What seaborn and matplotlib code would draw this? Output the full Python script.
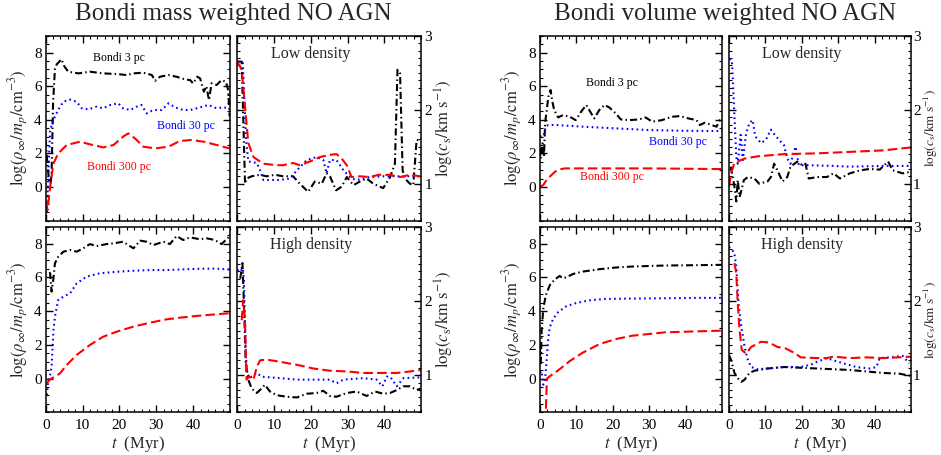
import matplotlib
matplotlib.use('Agg')
import matplotlib.pyplot as plt
import seaborn as sns
from matplotlib.ticker import MultipleLocator

# ---------------- data ----------------
# Mass weighted, low density: log(rho_inf)
mass_low_rho_3pc_t = [0, 0.5, 1.0, 1.3, 1.6, 2.0, 2.5, 3.0, 4.3, 5.0, 6.1, 8.9, 12.0, 15.6, 19.3, 22.0, 23.8, 26.5, 28.8, 29.7, 31.0, 33.3, 35.5, 37.8, 39.2, 40.0, 41.1, 41.9, 42.9, 43.6, 44.3, 45.0, 46.4, 47.7, 48.9, 49.5, 49.9]
mass_low_rho_3pc = [2.8, 1.2, 0.3, 0.2, 0.8, 5.0, 7.0, 7.3, 7.6, 7.2, 6.86, 6.76, 6.86, 6.76, 6.72, 6.66, 6.76, 6.8, 6.66, 6.32, 6.56, 6.66, 6.56, 6.4, 6.36, 6.16, 6.56, 6.46, 5.67, 6.0, 5.17, 6.17, 6.07, 6.36, 6.26, 5.77, 4.2]
mass_low_rho_30pc_t = [0.3, 1.2, 2.1, 3.4, 4.8, 6.6, 8.4, 9.8, 11.6, 13.8, 15.6, 17.5, 19.7, 21.0, 22.9, 24.7, 26.0, 27.4, 29.2, 31.5, 33.3, 35.1, 37.3, 39.2, 41.9, 44.1, 46.4, 48.2, 49.8]
mass_low_rho_30pc = [-1.5, 3.4, 4.0, 4.6, 5.07, 5.2, 5.07, 4.68, 4.62, 4.78, 4.68, 4.88, 4.98, 4.68, 4.58, 4.78, 4.88, 4.38, 4.58, 4.58, 4.98, 4.74, 4.58, 4.58, 4.74, 4.88, 4.68, 4.74, 4.68]
mass_low_rho_300pc_t = [0, 0.5, 1.2, 2.1, 3.4, 5.7, 9.3, 12.0, 15.6, 18.4, 21.0, 22.4, 24.2, 26.5, 29.7, 33.3, 36.4, 39.6, 42.8, 46.4, 49.8]
mass_low_rho_300pc = [-0.87, -1.37, 0.02, 1.4, 2.0, 2.5, 2.7, 2.54, 2.36, 2.5, 3.0, 3.19, 2.9, 2.4, 2.3, 2.4, 2.74, 2.8, 2.7, 2.5, 2.3]

# Mass weighted, low density: log(c_s)
mass_low_cs_3pc_t = [0, 1.2, 2.1, 2.5, 3.9, 6.2, 8.0, 10.3, 12.5, 15.2, 17.0, 19.3, 21.1, 23.0, 24.3, 25.2, 26.9, 28.4, 29.8, 31.6, 33.4, 35.2, 37.0, 39.7, 41.6, 42.9, 43.6, 44.3, 45.0, 45.6, 47.0, 47.9, 48.8, 49.7]
mass_low_cs_3pc = [2.65, 2.65, 1.0, 1.07, 1.1, 1.12, 1.1, 1.12, 1.1, 1.1, 1.0, 0.89, 1.03, 1.0, 1.14, 1.1, 0.91, 0.96, 1.09, 0.98, 1.03, 1.07, 1.0, 0.94, 1.09, 1.27, 2.54, 2.49, 1.18, 1.07, 1.0, 0.98, 1.59, 1.59]
mass_low_cs_30pc_t = [0, 1.5, 2.4, 3.0, 5.3, 6.2, 7.1, 11.6, 14.3, 16.2, 18.9, 21.6, 23.4, 24.3, 25.2, 27.0, 28.9, 31.1, 32.5, 36.1, 39.7, 45.2, 49.7]
mass_low_cs_30pc = [2.65, 2.63, 1.59, 1.3, 1.28, 1.18, 1.05, 1.05, 1.07, 1.18, 1.32, 1.36, 1.32, 1.14, 1.32, 1.32, 1.18, 1.07, 1.05, 1.09, 1.1, 1.1, 1.1]
mass_low_cs_300pc_t = [0, 1.2, 2.1, 3.0, 4.4, 7.1, 10.7, 12.5, 15.2, 17.0, 19.8, 22.5, 25.2, 27.0, 28.4, 29.8, 31.1, 33.4, 36.1, 38.4, 41.6, 44.3, 47.0, 49.7]
mass_low_cs_300pc = [2.65, 2.54, 2.04, 1.55, 1.36, 1.27, 1.25, 1.25, 1.28, 1.25, 1.3, 1.36, 1.39, 1.4, 1.34, 1.25, 1.09, 1.1, 1.09, 1.12, 1.12, 1.09, 1.12, 1.1]

# Mass weighted, high density: log(rho_inf)
mass_high_rho_3pc_t = [1.0, 1.2, 1.6, 2.1, 2.5, 3.4, 4.8, 6.6, 8.4, 10.2, 12.0, 13.8, 16.5, 18.4, 21.0, 22.4, 23.8, 25.6, 27.4, 29.2, 31.9, 33.7, 35.5, 37.3, 39.2, 41.9, 43.7, 45.9, 47.7, 49.8]
mass_high_rho_3pc = [6.3, 6.24, 5.15, 5.94, 6.83, 7.22, 7.52, 7.62, 7.52, 7.72, 7.97, 7.85, 7.97, 8.01, 8.11, 7.91, 7.72, 8.17, 8.11, 7.91, 8.11, 7.97, 8.45, 8.21, 8.37, 8.25, 8.31, 8.21, 7.97, 8.41]
mass_high_rho_30pc_t = [0.3, 0.7, 1.2, 1.6, 2.1, 2.5, 3.4, 4.8, 6.6, 8.4, 11.1, 14.7, 19.3, 23.8, 28.3, 32.8, 37.3, 41.9, 46.4, 49.8]
mass_high_rho_30pc = [-0.97, -0.08, 0.21, 0.7, 2.88, 3.67, 4.66, 4.85, 5.05, 5.64, 6.04, 6.24, 6.33, 6.39, 6.43, 6.43, 6.47, 6.51, 6.51, 6.47]
mass_high_rho_300pc_t = [0.3, 1.2, 2.5, 3.9, 5.7, 8.4, 12.0, 15.6, 19.3, 23.8, 28.3, 32.8, 37.3, 41.9, 46.4, 49.8]
mass_high_rho_300pc = [-0.28, -0.04, 0.11, 0.31, 0.8, 1.4, 1.99, 2.48, 2.78, 3.08, 3.31, 3.51, 3.63, 3.73, 3.81, 3.87]

# Mass weighted, high density: log(c_s)
mass_high_cs_3pc_t = [0.8, 1.4, 1.8, 2.3, 3.0, 3.9, 5.3, 6.6, 7.5, 8.9, 10.7, 13.4, 16.2, 18.9, 21.6, 23.4, 25.2, 27.0, 29.8, 32.5, 35.2, 37.5, 39.7, 41.6, 43.4, 45.2, 47.0, 48.8, 49.9]
mass_high_cs_3pc = [2.3, 2.51, 1.97, 1.16, 0.94, 0.82, 0.76, 0.82, 0.87, 0.78, 0.73, 0.71, 0.7, 0.75, 0.76, 0.79, 0.72, 0.71, 0.76, 0.78, 0.72, 0.78, 0.75, 0.76, 0.8, 0.85, 0.85, 0.8, 0.82]
mass_high_cs_30pc_t = [0, 0.7, 1.5, 1.8, 2.3, 2.7, 3.3, 4.4, 5.3, 6.6, 11.6, 16.2, 20.7, 25.2, 27.0, 28.9, 34.3, 37.9, 39.5, 40.7, 41.6, 43.4, 45.2, 49.9]
mass_high_cs_30pc = [2.42, 2.39, 2.44, 2.28, 1.29, 1.03, 0.96, 1.0, 1.03, 0.98, 0.96, 0.94, 0.94, 0.94, 0.89, 0.94, 0.96, 0.94, 0.85, 0.98, 0.98, 0.85, 0.96, 0.97]
mass_high_cs_300pc_t = [1.2, 1.6, 2.1, 2.5, 3.3, 4.4, 5.3, 6.2, 8.0, 11.6, 16.2, 20.7, 25.2, 29.8, 34.3, 38.8, 43.4, 47.0, 49.9]
mass_high_cs_300pc = [1.74, 2.01, 1.74, 0.94, 0.98, 0.94, 1.11, 1.2, 1.21, 1.18, 1.14, 1.09, 1.06, 1.05, 1.03, 1.03, 1.03, 1.05, 1.07]

# Volume weighted, low density: log(rho_inf)
vol_low_rho_3pc_t = [0, 0.2, 0.7, 1.1, 1.4, 2.3, 2.9, 3.4, 3.9, 5.0, 6.3, 8.2, 9.8, 11.3, 12.7, 13.8, 14.9, 16.3, 17.7, 19.0, 20.8, 22.2, 24.5, 27.2, 29.0, 30.8, 33.5, 36.2, 38.5, 40.8, 43.0, 43.9, 45.3, 47.1, 48.5, 49.4, 50.0]
vol_low_rho_3pc = [2.3, 1.7, 2.6, 1.8, 3.8, 5.37, 5.77, 5.08, 4.58, 4.14, 4.28, 4.18, 3.98, 4.48, 4.88, 4.48, 4.08, 4.58, 4.88, 4.74, 4.38, 4.02, 3.98, 4.02, 4.14, 3.89, 3.98, 4.18, 4.22, 4.08, 3.98, 3.69, 3.83, 3.69, 3.59, 3.98, 3.89]
vol_low_rho_30pc_t = [0, 0.9, 1.6, 2.3, 4.5, 11.8, 20.8, 29.9, 38.9, 50.0]
vol_low_rho_30pc = [3.0, 3.0, 3.6, 3.69, 3.69, 3.59, 3.49, 3.39, 3.35, 3.33]
vol_low_rho_300pc_t = [0, 0.9, 1.8, 2.7, 4.1, 5.4, 6.8, 16.3, 29.9, 50.0]
vol_low_rho_300pc = [0.02, 0.12, 0.42, 0.62, 0.91, 1.05, 1.11, 1.11, 1.11, 1.07]

# Volume weighted, low density: log(c_s)
vol_low_cs_3pc_t = [0.5, 1.5, 2.0, 2.4, 2.9, 3.4, 4.1, 5.2, 7.0, 8.3, 10.6, 11.5, 12.4, 13.3, 14.7, 16.0, 16.9, 18.8, 20.1, 21.0, 21.9, 24.2, 26.9, 28.7, 30.5, 33.2, 36.0, 38.7, 41.4, 43.7, 45.0, 47.7, 50.0]
vol_low_cs_3pc = [1.23, 0.96, 0.76, 1.05, 0.82, 0.91, 1.05, 1.09, 1.07, 1.0, 1.03, 1.09, 1.27, 1.18, 1.03, 1.09, 1.23, 1.3, 1.25, 1.27, 1.07, 1.09, 1.09, 1.14, 1.07, 1.14, 1.18, 1.2, 1.19, 1.3, 1.18, 1.14, 1.16]
vol_low_cs_30pc_t = [0.2, 0.8, 2.0, 2.4, 3.2, 3.8, 4.7, 5.6, 6.5, 7.2, 8.8, 10.1, 11.5, 12.9, 15.1, 16.0, 16.9, 18.3, 19.2, 21.5, 28.7, 33.2, 42.3, 50.0]
vol_low_cs_30pc = [2.69, 2.67, 1.36, 1.27, 1.66, 1.32, 1.68, 1.82, 1.86, 1.64, 1.55, 1.59, 1.73, 1.64, 1.52, 1.34, 1.27, 1.5, 1.25, 1.25, 1.24, 1.23, 1.24, 1.24]
vol_low_cs_300pc_t = [0, 0.6, 1.4, 2.4, 4.3, 7.9, 15.1, 24.2, 33.2, 42.3, 50.0]
vol_low_cs_300pc = [0.96, 1.14, 1.27, 1.3, 1.34, 1.37, 1.4, 1.41, 1.43, 1.45, 1.49]

# Volume weighted, high density: log(rho_inf)
vol_high_rho_3pc_t = [0, 0.2, 0.45, 0.9, 1.6, 2.7, 4.1, 5.4, 6.3, 7.2, 9.1, 11.8, 16.3, 20.8, 25.4, 34.4, 43.5, 50.0]
vol_high_rho_3pc = [1.8, 0.9, 2.84, 4.14, 4.94, 5.54, 5.88, 6.08, 5.94, 6.0, 6.2, 6.34, 6.48, 6.58, 6.64, 6.7, 6.72, 6.74]
vol_high_rho_30pc_t = [0, 0.45, 0.9, 1.4, 1.8, 2.3, 2.7, 3.6, 5.0, 7.2, 10.0, 13.6, 18.1, 25.4, 34.4, 43.5, 50.0]
vol_high_rho_30pc = [0.34, 0.44, -0.36, -0.06, 1.04, 2.44, 3.04, 3.54, 3.94, 4.28, 4.48, 4.64, 4.72, 4.74, 4.76, 4.78, 4.78]
vol_high_rho_300pc_t = [1.5, 1.9, 2.7, 4.1, 5.9, 8.2, 11.8, 16.3, 20.8, 25.4, 29.9, 34.4, 43.5, 50.0]
vol_high_rho_300pc = [-2.6, 0.0, 0.14, 0.34, 0.64, 1.04, 1.54, 2.04, 2.34, 2.54, 2.64, 2.74, 2.8, 2.84]

# Volume weighted, high density: log(c_s)
vol_high_cs_3pc_t = [0, 0.6, 1.5, 2.4, 3.4, 4.3, 5.6, 7.0, 10.6, 15.1, 19.7, 24.2, 28.7, 33.2, 37.8, 42.3, 46.8, 50.0]
vol_high_cs_3pc = [1.27, 1.2, 1.03, 0.96, 0.91, 0.94, 1.03, 1.06, 1.09, 1.11, 1.1, 1.09, 1.08, 1.07, 1.05, 1.03, 1.02, 0.99]
vol_high_cs_30pc_t = [0, 0.6, 1.4, 2.0, 2.6, 3.4, 4.3, 5.2, 6.1, 7.9, 10.6, 15.1, 19.7, 22.4, 24.2, 26.9, 28.7, 31.4, 35.0, 38.7, 40.5, 41.4, 44.1, 47.7, 49.5]
vol_high_cs_30pc = [2.73, 2.69, 2.66, 2.46, 1.97, 1.65, 1.38, 1.2, 1.11, 1.08, 1.09, 1.11, 1.11, 1.14, 1.18, 1.23, 1.2, 1.16, 1.11, 1.09, 1.11, 1.23, 1.24, 1.26, 1.16]
vol_high_cs_300pc_t = [1.5, 2.0, 2.4, 2.9, 3.5, 4.7, 6.1, 8.8, 11.0, 13.3, 15.6, 18.3, 19.7, 24.2, 26.9, 28.7, 33.2, 37.8, 42.3, 46.8, 50.0]
vol_high_cs_300pc = [2.51, 2.37, 1.97, 1.61, 1.34, 1.29, 1.38, 1.45, 1.44, 1.38, 1.36, 1.29, 1.24, 1.23, 1.23, 1.25, 1.23, 1.24, 1.23, 1.24, 1.25]

group_titles = ["Bondi mass weighted NO AGN", "Bondi volume weighted NO AGN"]
panel_labels = ["Low density", "High density"]
series_labels = ["Bondi 3 pc", "Bondi 30 pc", "Bondi 300 pc"]
xtick_values = [0, 10, 20, 30, 40]
rho_ticks = [0, 2, 4, 6, 8]
cs_ticks = [1, 2, 3]

# ---------------- styling ----------------
sns.set_style('ticks')
plt.rcParams['font.family'] = ['Liberation Serif', 'DejaVu Serif']
plt.rcParams['mathtext.fontset'] = 'stix'

W, H = 941, 455
fig = plt.figure(figsize=(W / 100, H / 100), dpi=100)
fig.patch.set_facecolor('white')

LW = 1.5
styles = {
    '3pc': dict(color='#000000', linestyle=(0, (3.4, 1.5, 0.7, 1.5))),
    '30pc': dict(color='#0000ff', linestyle=(0, (0.8, 1.6))),
    '300pc': dict(color='#ff0000', linestyle=(0, (4.6, 2.0))),
}

def px_axes(x0, y0, x1, y1):
    return fig.add_axes([x0 / W, 1 - y1 / H, (x1 - x0) / W, (y1 - y0) / H])

col_x = [[(45.7, 230.0), (237.3, 421.0)], [(540.0, 722.0), (729.0, 911.0)]]
row_y = [(35.7, 220.7), (226.7, 412.3)]
cs_label_center_px = [443.0, 934.0]
cs_tick_pad = [2.5, 1.5]

data = {
    ('mass', 'low', 'rho'): [(mass_low_rho_3pc_t, mass_low_rho_3pc), (mass_low_rho_30pc_t, mass_low_rho_30pc), (mass_low_rho_300pc_t, mass_low_rho_300pc)],
    ('mass', 'low', 'cs'): [(mass_low_cs_3pc_t, mass_low_cs_3pc), (mass_low_cs_30pc_t, mass_low_cs_30pc), (mass_low_cs_300pc_t, mass_low_cs_300pc)],
    ('mass', 'high', 'rho'): [(mass_high_rho_3pc_t, mass_high_rho_3pc), (mass_high_rho_30pc_t, mass_high_rho_30pc), (mass_high_rho_300pc_t, mass_high_rho_300pc)],
    ('mass', 'high', 'cs'): [(mass_high_cs_3pc_t, mass_high_cs_3pc), (mass_high_cs_30pc_t, mass_high_cs_30pc), (mass_high_cs_300pc_t, mass_high_cs_300pc)],
    ('vol', 'low', 'rho'): [(vol_low_rho_3pc_t, vol_low_rho_3pc), (vol_low_rho_30pc_t, vol_low_rho_30pc), (vol_low_rho_300pc_t, vol_low_rho_300pc)],
    ('vol', 'low', 'cs'): [(vol_low_cs_3pc_t, vol_low_cs_3pc), (vol_low_cs_30pc_t, vol_low_cs_30pc), (vol_low_cs_300pc_t, vol_low_cs_300pc)],
    ('vol', 'high', 'rho'): [(vol_high_rho_3pc_t, vol_high_rho_3pc), (vol_high_rho_30pc_t, vol_high_rho_30pc), (vol_high_rho_300pc_t, vol_high_rho_300pc)],
    ('vol', 'high', 'cs'): [(vol_high_cs_3pc_t, vol_high_cs_3pc), (vol_high_cs_30pc_t, vol_high_cs_30pc), (vol_high_cs_300pc_t, vol_high_cs_300pc)],
}
series_keys = ['3pc', '30pc', '300pc']

series_text_pos = {
    'mass': [(20, 7.67), (38, 3.64), (20, 1.2)],
    'vol': [(19.7, 6.17), (38, 2.65), (19.8, 0.6)],
}

RHO_LABEL = r'$\log(\rho_\infty/m_{p}/\mathrm{cm}^{-3})$'
CS_LABEL = r'$\log(c_\mathrm{s}/\mathrm{km\ s}^{-1})$'
TICK_FS = 11
LAB_FS = 12

cs_axes = []
for g, group in enumerate(['mass', 'vol']):
    for r, dens in enumerate(['low', 'high']):
        for c, qty in enumerate(['rho', 'cs']):
            (x0, x1) = col_x[g][c]
            (y0, y1) = row_y[r]
            ax = px_axes(x0, y0, x1, y1)
            for key, (tt, vv) in zip(series_keys, data[(group, dens, qty)]):
                sns.lineplot(x=tt, y=vv, ax=ax, estimator=None, sort=False,
                             linewidth=LW, **styles[key])
            ax.set_xlim(0, 50)
            ax.set_xticks(xtick_values)
            ax.xaxis.set_minor_locator(MultipleLocator(2))
            ax.tick_params(which='both', direction='in', top=True, bottom=True,
                           left=True, right=True, labelsize=TICK_FS, colors='#000000')
            ax.tick_params(which='major', length=5, width=1.0)
            ax.tick_params(which='minor', length=2.5, width=0.8)
            if qty == 'rho':
                ax.set_ylim(-2, 9)
                ax.set_yticks(rho_ticks)
                ax.yaxis.set_minor_locator(MultipleLocator(0.5))
                ax.tick_params(axis='y', which='both', labelleft=True, labelright=False, pad=3)
                ax.set_ylabel(RHO_LABEL, fontsize=LAB_FS)
                ax.yaxis.set_label_coords(-0.15, 0.5)
                ax.yaxis.label.set_va('center')
            else:
                ax.set_ylim(0.5, 3.0)
                ax.set_yticks(cs_ticks)
                ax.yaxis.set_minor_locator(MultipleLocator(0.1))
                ax.yaxis.set_label_position('right')
                ax.tick_params(axis='y', which='both', labelleft=False, labelright=True,
                               pad=cs_tick_pad[g])
                ax.set_ylabel(CS_LABEL, fontsize=LAB_FS, rotation=90)
                ax.yaxis.set_label_coords(1.12, 0.5)
                ax.yaxis.label.set_va('center')
                ax.text(20, 2.75, panel_labels[r], ha='center', va='center', fontsize=11.5)
                cs_axes.append((ax, cs_label_center_px[g]))
            for sp in ax.spines.values():
                sp.set_linewidth(1.1)
                sp.set_color('#000000')
            if r == 0:
                ax.tick_params(axis='x', labelbottom=False)
                ax.set_xlabel('')
                if qty == 'rho':
                    for (tx, ty), lab, key in zip(series_text_pos[group], series_labels, series_keys):
                        ax.text(tx, ty, lab, ha='center', va='center', fontsize=8.5,
                                color=styles[key]['color'])
            else:
                ax.tick_params(axis='x', labelbottom=True, pad=5)
                ax.set_xlabel(r'$t$  (Myr)', fontsize=LAB_FS)
                ax.xaxis.set_label_coords(0.5, -0.17)
                ax.xaxis.label.set_va('center')
            ax.set_facecolor('white')
            ax.grid(False)
    gx0 = col_x[g][0][0]
    gx1 = col_x[g][1][1]
    fig.text((gx0 + gx1) / 2 / W, 1 - 14 / H, group_titles[g], ha='center', va='center', fontsize=18)

# fit the right-hand c_s labels between the tick labels and the figure edge
fig.canvas.draw()
renderer = fig.canvas.get_renderer()
for ax, desired in cs_axes:
    ticks_right = max(t.label2.get_window_extent(renderer).x1
                      for t in ax.yaxis.get_major_ticks() if t.label2.get_visible() and t.label2.get_text())
    cx = desired
    for fs in [12, 11.5, 11, 10.5, 10, 9.5, 9, 8.5, 8]:
        ax.yaxis.label.set_fontsize(fs)
        w = ax.yaxis.label.get_window_extent(renderer).width
        lo = ticks_right + 1.0 + w / 2
        hi = W - 1.0 - w / 2
        if lo <= hi:
            cx = min(max(desired, lo), hi)
            break
    bb = ax.get_window_extent(renderer)
    ax.yaxis.set_label_coords((cx - bb.x0) / bb.width, 0.5)

fig.savefig('out.png', dpi=100, facecolor='white')
